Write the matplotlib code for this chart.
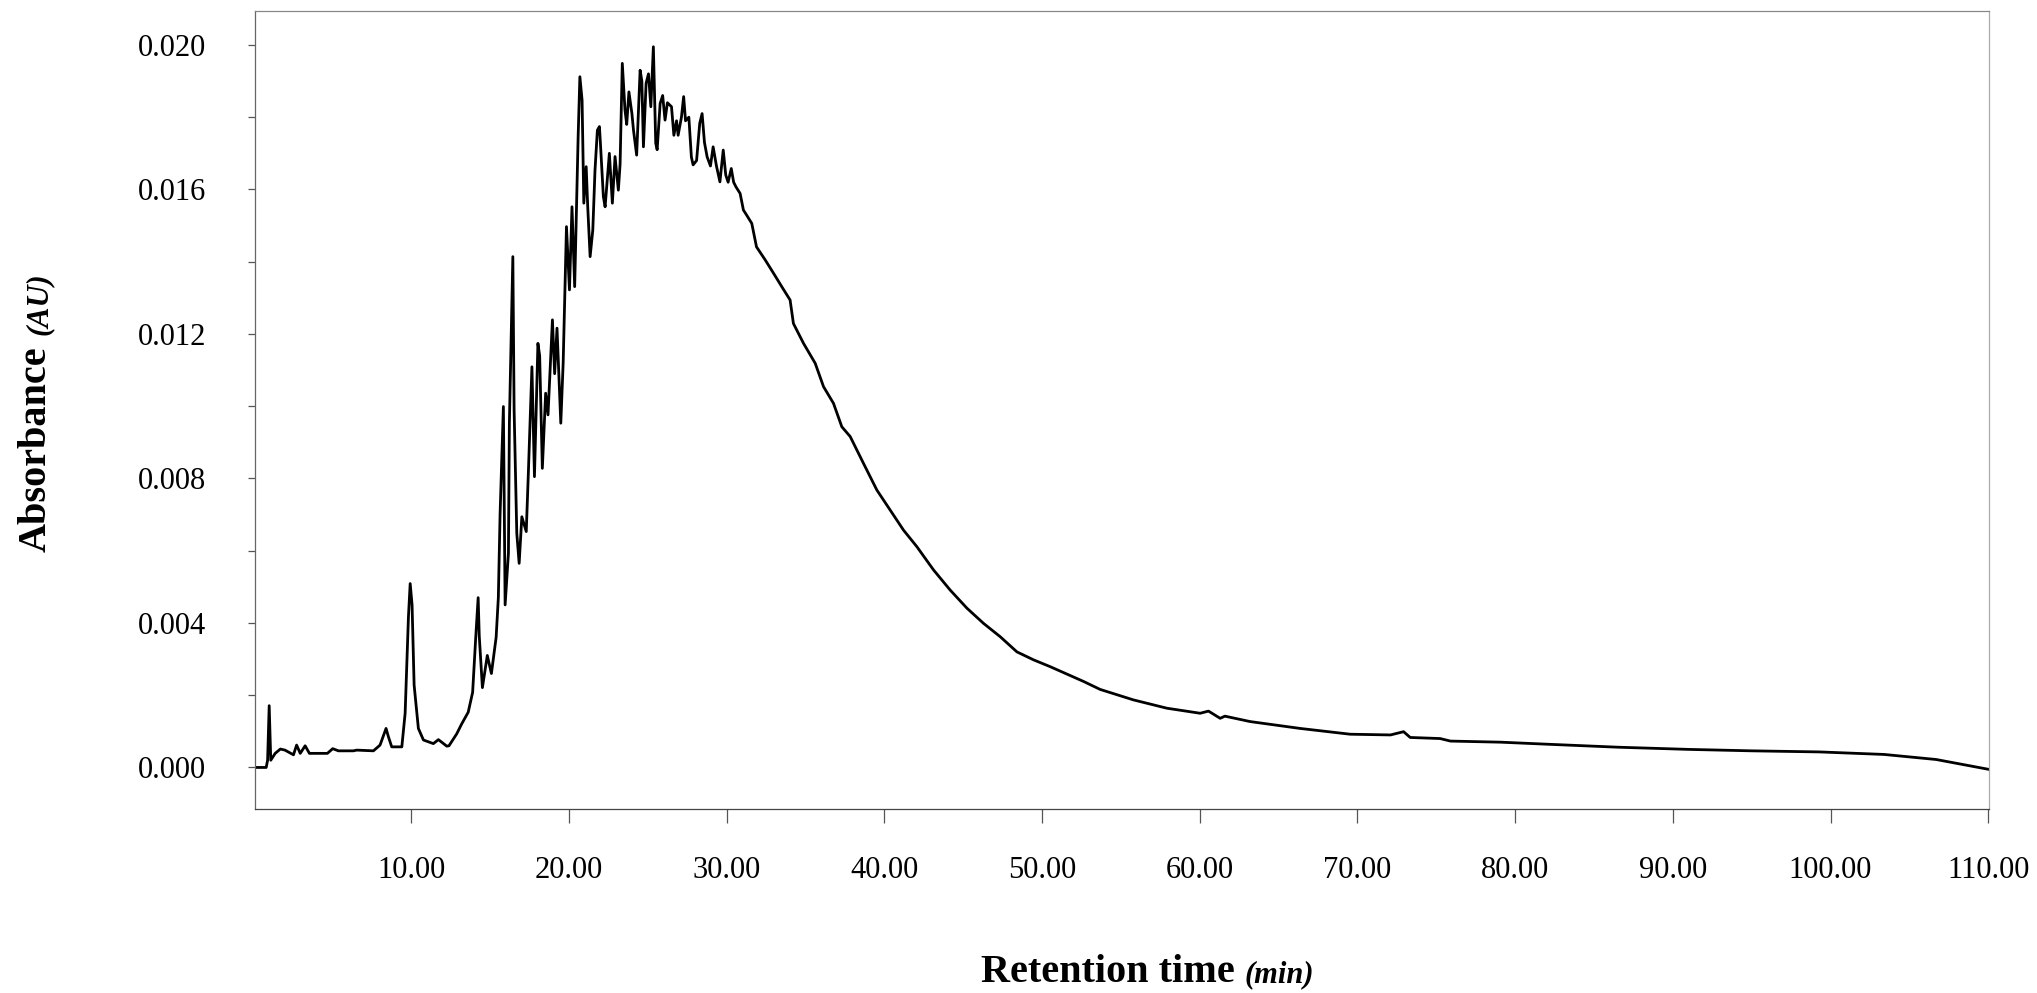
import matplotlib
matplotlib.use("Agg")
import matplotlib.pyplot as plt
import numpy as np

# ---- data ----
time_min = [
    0.10, 0.81, 0.90, 1.00, 1.10, 1.38, 1.71, 2.00, 2.54, 2.74, 2.97, 3.28, 3.55, 4.69, 5.03, 5.39,
    6.34, 6.55, 7.61, 8.03, 8.41, 8.56, 8.77, 9.41, 9.62, 9.83, 9.94, 10.06, 10.19, 10.46, 10.78,
    11.41, 11.73, 12.26, 12.40, 12.89, 13.20, 13.62, 13.90, 14.09, 14.25, 14.32, 14.52, 14.83,
    15.09, 15.39, 15.53, 15.64, 15.85, 15.96, 16.17, 16.23, 16.45, 16.53, 16.70, 16.85, 17.02,
    17.30, 17.44, 17.66, 17.82, 18.04, 18.15, 18.32, 18.53, 18.68, 18.96, 19.10, 19.25, 19.40,
    19.49, 19.64, 19.77, 19.85, 20.04, 20.20, 20.37, 20.59, 20.70, 20.84, 20.95, 21.10, 21.20,
    21.35, 21.52, 21.66, 21.81, 21.94, 22.00, 22.19, 22.30, 22.57, 22.76, 22.93, 23.14, 23.25,
    23.39, 23.56, 23.67, 23.81, 24.00, 24.10, 24.30, 24.52, 24.63, 24.73, 24.90, 25.05, 25.20,
    25.36, 25.51, 25.60, 25.79, 25.95, 26.10, 26.25, 26.51, 26.66, 26.83, 26.93, 27.14, 27.28,
    27.40, 27.61, 27.77, 27.88, 28.10, 28.30, 28.45, 28.60, 28.77, 28.98, 29.15, 29.36, 29.58,
    29.79, 29.95, 30.10, 30.30, 30.45, 30.60, 30.86, 31.07, 31.26, 31.60, 31.90, 32.45, 32.98,
    33.50, 34.03, 34.24, 34.88, 35.62, 36.15, 36.78, 37.31, 37.84, 38.68, 39.53, 40.37, 41.22,
    42.07, 43.12, 44.18, 45.24, 46.29, 47.35, 48.41, 49.46, 50.52, 52.64, 53.69, 55.80, 57.92,
    60.03, 60.56, 61.30, 61.60, 63.20, 66.37, 69.54, 72.10, 72.93, 73.35, 75.25, 75.90, 79.06,
    82.20, 86.55, 91.00, 95.00, 99.30, 103.40, 106.70, 110.00,
]
absorbance_au = [
    0.00000, 0.00000, 0.00020, 0.00171, 0.00020, 0.00039, 0.00051, 0.00048, 0.00035, 0.00062,
    0.00039, 0.00060, 0.00039, 0.00039, 0.00052, 0.00046, 0.00046, 0.00048, 0.00046, 0.00062,
    0.00108, 0.00085, 0.00057, 0.00057, 0.00150, 0.00417, 0.00509, 0.00450, 0.00228, 0.00108,
    0.00076, 0.00066, 0.00077, 0.00059, 0.00060, 0.00093, 0.00120, 0.00153, 0.00208, 0.00355,
    0.00470, 0.00364, 0.00221, 0.00310, 0.00260, 0.00360, 0.00470, 0.00700, 0.00999, 0.00450,
    0.00593, 0.00953, 0.01414, 0.00990, 0.00648, 0.00565, 0.00694, 0.00653, 0.00823, 0.01109,
    0.00805, 0.01174, 0.01140, 0.00828, 0.01036, 0.00976, 0.01239, 0.01090, 0.01216, 0.01050,
    0.00953, 0.01119, 0.01358, 0.01497, 0.01322, 0.01552, 0.01331, 0.01746, 0.01912, 0.01847,
    0.01562, 0.01663, 0.01550, 0.01414, 0.01488, 0.01654, 0.01764, 0.01774, 0.01730, 0.01580,
    0.01552, 0.01700, 0.01562, 0.01691, 0.01598, 0.01670, 0.01949, 0.01820, 0.01780, 0.01870,
    0.01810, 0.01764, 0.01695, 0.01930, 0.01900, 0.01718, 0.01894, 0.01920, 0.01829, 0.01995,
    0.01728, 0.01710, 0.01838, 0.01860, 0.01792, 0.01840, 0.01829, 0.01750, 0.01790, 0.01750,
    0.01800, 0.01857, 0.01790, 0.01800, 0.01690, 0.01668, 0.01680, 0.01783, 0.01810, 0.01730,
    0.01690, 0.01665, 0.01718, 0.01665, 0.01621, 0.01709, 0.01640, 0.01620, 0.01658, 0.01620,
    0.01607, 0.01589, 0.01543, 0.01530, 0.01506, 0.01441, 0.01405, 0.01368, 0.01331, 0.01294,
    0.01229, 0.01174, 0.01119, 0.01054, 0.01008, 0.00943, 0.00916, 0.00842, 0.00768, 0.00713,
    0.00657, 0.00611, 0.00547, 0.00491, 0.00441, 0.00399, 0.00362, 0.00320, 0.00298, 0.00279,
    0.00238, 0.00216, 0.00187, 0.00164, 0.00150, 0.00156, 0.00136, 0.00142, 0.00127, 0.00108,
    0.00092, 0.00090, 0.00099, 0.00083, 0.00080, 0.00073, 0.00070, 0.00064, 0.00056, 0.00050,
    0.00046, 0.00043, 0.00036, 0.00022, -0.00005,
]
x_ticks = [10, 20, 30, 40, 50, 60, 70, 80, 90, 100, 110]
x_tick_labels = ["10.00", "20.00", "30.00", "40.00", "50.00", "60.00", "70.00", "80.00",
                 "90.00", "100.00", "110.00"]
y_ticks = [0.000, 0.004, 0.008, 0.012, 0.016, 0.020]
y_tick_labels = ["0.000", "0.004", "0.008", "0.012", "0.016", "0.020"]
y_minor_ticks = [0.002, 0.006, 0.010, 0.014, 0.018]

SERIF = "Liberation Serif"

fig = plt.figure(figsize=(20.37, 9.93), dpi=100)
ax = fig.add_axes([0.12518, 0.18530, 0.85126, 0.80363])

ax.plot(time_min, absorbance_au, color="black", linewidth=2.0)

ax.set_xlim(0.1, 110.05)
ax.set_ylim(-0.00115, 0.02094)

ax.set_xticks(x_ticks)
ax.set_xticklabels(x_tick_labels, fontfamily=SERIF, fontsize=22)
ax.set_yticks(y_ticks)
ax.set_yticklabels(y_tick_labels, fontfamily=SERIF, fontsize=22)
ax.set_yticks(y_minor_ticks, minor=True)

ax.tick_params(axis="y", which="both", direction="out", length=5, width=0.9,
               color="#555555", pad=30)
ax.tick_params(axis="x", which="major", direction="out", length=10, width=0.9,
               color="#555555", pad=24)

for side, col in [("left", "#666666"), ("bottom", "#444444"),
                  ("top", "#888888"), ("right", "#aaaaaa")]:
    ax.spines[side].set_color(col)
    ax.spines[side].set_linewidth(0.9)

# x label: "Retention time" bold + "(min)" bold italic smaller
t1 = fig.text(0.4814, 0.011, "Retention time", fontfamily=SERIF, fontweight="bold",
              fontsize=29, ha="left", va="baseline")
d1 = 0.216 * 29
ax.annotate("(min)", xy=(1, 0), xycoords=t1, xytext=(7, d1), textcoords="offset points",
            fontfamily=SERIF, fontweight="bold", fontstyle="italic", fontsize=22,
            ha="left", va="baseline", annotation_clip=False)

# y label: "Absorbance" bold + "(AU)" bold italic smaller, rotated
t2 = fig.text(0.0226, 0.444, "Absorbance", fontfamily=SERIF, fontweight="bold",
              fontsize=29, rotation=90, rotation_mode="anchor", ha="left", va="baseline")
ax.annotate("(AU)", xy=(1, 1), xycoords=t2, xytext=(-d1, 8), textcoords="offset points",
            fontfamily=SERIF, fontweight="bold", fontstyle="italic", fontsize=22,
            rotation=90, rotation_mode="anchor", ha="left", va="baseline",
            annotation_clip=False)

fig.savefig("out.png", dpi=100)
